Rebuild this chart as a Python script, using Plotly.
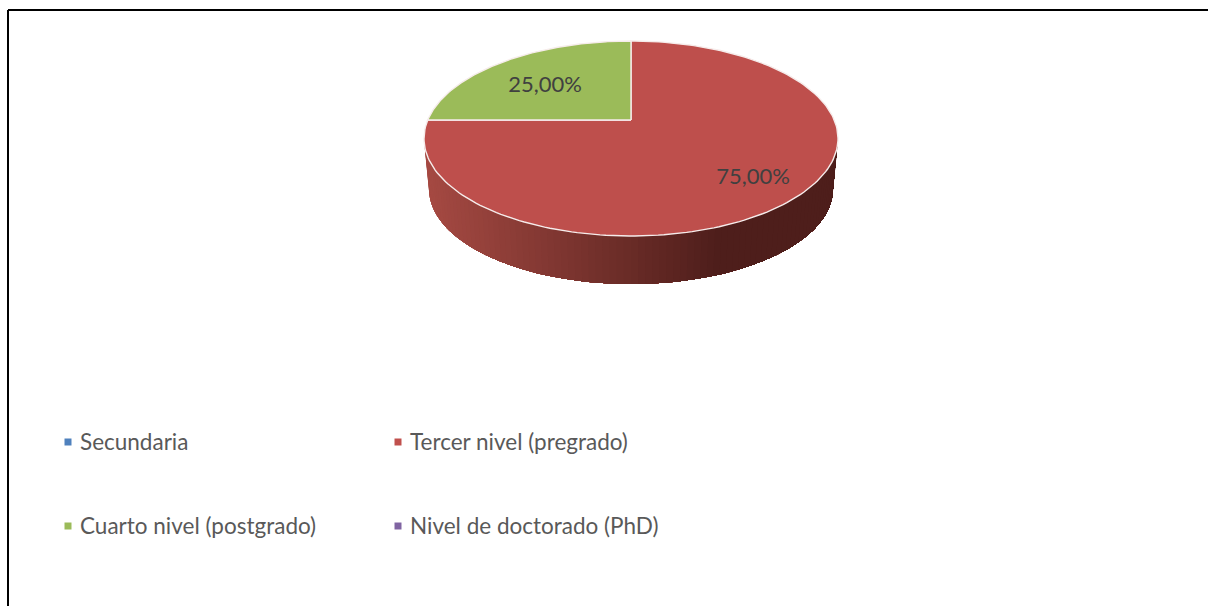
import numpy as np
import plotly.graph_objects as go

categories = ["Secundaria", "Tercer nivel (pregrado)", "Cuarto nivel (postgrado)", "Nivel de doctorado (PhD)"]
shares = [0, 75, 25, 0]
value_labels = ["", "75,00%", "25,00%", ""]
colors = ["#4F81BD", "#C0504D", "#9BBB59", "#8064A2"]
top_colors = ["#4F81BD", "#BE4F4C", "#9BBB59", "#8064A2"]

# geometry of the tilted pie, in page pixels
CX, CY, RX, RY = 631, 138.5, 207, 97.5
APEX_Y = 120
BOT_CY, BOT_RX, BOT_RY = 189, 202, 95
FONT = "Lato"


def rim_point(angle):
    # ray from the off-centre apex to the ellipse, angle clockwise from top
    dx, dy = np.sin(angle) * RX, -np.cos(angle) * RY
    oy = (APEX_Y - CY) / RY
    a = (dx / RX) ** 2 + (dy / RY) ** 2
    b = 2 * oy * dy / RY
    c = oy ** 2 - 1
    s = (-b + np.sqrt(b ** 2 - 4 * a * c)) / (2 * a)
    return CX + s * dx, APEX_Y + s * dy


def wall_color(x):
    f = min(max((x - 429) / (716 - 429), 0), 1)
    left, right = (166, 74, 67), (78, 30, 27)
    return "rgb(%d,%d,%d)" % tuple(l + (r - l) * f for l, r in zip(left, right))


fig = go.Figure()

# side wall: each layer runs from t to the right end and paints over the last,
# so the gradient has no seams between strips
ts = np.linspace(np.pi, 0, 91)
for i, t in enumerate(ts[:-1]):
    arc = ts[i:]
    xs = list(CX + RX * np.cos(arc)) + list(CX + BOT_RX * np.cos(arc[::-1]))
    ys = list(CY + RY * np.sin(arc)) + list(BOT_CY + BOT_RY * np.sin(arc[::-1]))
    col = wall_color(CX + BOT_RX * np.cos(t))
    fig.add_trace(go.Scatter(x=xs, y=ys, mode="none", fill="toself", fillcolor=col,
                             hoverinfo="skip", showlegend=False))

# top face, wedges from the shares
total = sum(shares)
start = 0
for name, share, col, label in zip(categories, shares, top_colors, value_labels):
    if share == 0:
        continue
    angles = np.linspace(start, start + share / total, 200) * 2 * np.pi
    rim = [rim_point(a) for a in angles]
    xs = [CX] + [p[0] for p in rim] + [CX]
    ys = [APEX_Y] + [p[1] for p in rim] + [APEX_Y]
    fig.add_trace(go.Scatter(x=xs, y=ys, mode="lines", fill="toself", fillcolor=col, name=name,
                             line=dict(color="#F6ECEB", width=1.4), showlegend=False))
    start += share / total

# value labels
label_x = [753, 545]
label_y = [178, 86]
fig.add_trace(go.Scatter(x=label_x, y=label_y, mode="text", text=value_labels[1:3], hoverinfo="skip",
                         textfont=dict(family=FONT, size=22, color="#404040"), showlegend=False))

# legend, 2 x 2 grid
legend_x = [68, 398, 68, 398]
legend_y = [442, 442, 526, 526]
fig.add_trace(go.Scatter(x=legend_x, y=legend_y, mode="markers", hoverinfo="skip", showlegend=False,
                         marker=dict(symbol="square", size=7, color=colors)))
fig.add_trace(go.Scatter(x=[x + 12 for x in legend_x], y=[y + 2 for y in legend_y], mode="text", text=categories,
                         textposition="middle right", hoverinfo="skip", showlegend=False,
                         textfont=dict(family=FONT, size=22.5, color="#595959")))

fig.update_layout(
    width=1208,
    height=606,
    margin=dict(l=0, r=0, t=0, b=0),
    paper_bgcolor="white",
    plot_bgcolor="white",
    xaxis=dict(range=[0, 1208], visible=False, fixedrange=True),
    yaxis=dict(range=[606, 0], visible=False, fixedrange=True),
    shapes=[
        dict(type="line", xref="x", yref="y", x0=8, y0=10, x1=1208, y1=10, line=dict(color="black", width=2)),
        dict(type="line", xref="x", yref="y", x0=8, y0=10, x1=8, y1=606, line=dict(color="black", width=2)),
    ],
)

# the page's default body margin would push the figure 8px in
fig.write_html("out.html", config={"displayModeBar": False},
               post_script="document.body.style.margin='0';document.body.style.overflow='hidden';")
